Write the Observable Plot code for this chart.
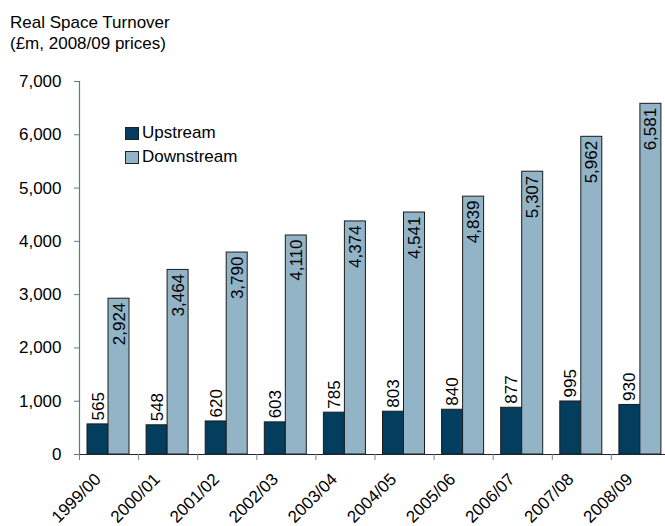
<!DOCTYPE html>
<html>
<head>
<meta charset="utf-8">
<script src="https://cdn.jsdelivr.net/npm/d3@7"></script>
<script src="https://cdn.jsdelivr.net/npm/@observablehq/plot@0.6"></script>
<style>
  html, body { margin: 0; padding: 0; background: #fff; }
  #wrap { position: relative; width: 665px; height: 526px; overflow: hidden; font-family: "Liberation Sans", Arial, sans-serif; color: #000; }
  #title { position: absolute; left: 10px; top: 12px; font-size: 17px; line-height: 21px; }
  #legend { position: absolute; left: 125px; top: 121px; font-size: 17px; line-height: 24px; }
  #legend .item { display: flex; align-items: center; }
  #legend .sw { width: 12px; height: 11px; border: 1px solid #222; margin-right: 3px; }
  #chart { position: absolute; left: 0; top: 0; }
</style>
</head>
<body>
<div id="wrap">
  <div id="chart"></div>
  <div id="title">Real Space Turnover<br>(£m, 2008/09 prices)</div>
  <div id="legend"></div>
</div>
<script>
const years = ["1999/00", "2000/01", "2001/02", "2002/03", "2003/04", "2004/05", "2005/06", "2006/07", "2007/08", "2008/09"];
const upstream = [565, 548, 620, 603, 785, 803, 840, 877, 995, 930];
const downstream = [2924, 3464, 3790, 4110, 4374, 4541, 4839, 5307, 5962, 6581];
const seriesNames = ["Upstream", "Downstream"];
const seriesColors = ["#033e5e", "#93b4c7"];
const yTicks = [0, 1000, 2000, 3000, 4000, 5000, 6000, 7000];

const up = years.map((year, i) => ({year, value: upstream[i]}));
const down = years.map((year, i) => ({year, value: downstream[i]}));
const fmt = d3.format(",");
const axisBlue = "#4f7d9b";
const step = (670 - 79) / years.length;

const chart = Plot.plot({
  width: 665,
  height: 526,
  marginTop: 81,
  marginBottom: 72,
  marginLeft: 79,
  marginRight: 0,
  style: {fontFamily: "'Liberation Sans', Arial, sans-serif", fontSize: "17px", color: "#000", background: "transparent"},
  x: {type: "band", domain: years, range: [79, 670], padding: 0, round: false, axis: null, label: null},
  y: {domain: [0, 7000], axis: null, label: null},
  marks: [
    Plot.barY(up, {x: "year", y: "value", fill: seriesColors[0], stroke: "#1b1b1b", strokeWidth: 1, insetLeft: 8, insetRight: step - 29}),
    Plot.barY(down, {x: "year", y: "value", fill: seriesColors[1], stroke: "#1b1b1b", strokeWidth: 1, insetLeft: 29, insetRight: step - 50}),
    Plot.ruleY([0], {stroke: "#1a2a35", strokeWidth: 1.2}),
    Plot.ruleX([years[0]], {y1: 0, y2: 7000, dx: -step / 2, stroke: axisBlue, strokeWidth: 1.2}),
    Plot.axisY({ticks: yTicks, tickFormat: fmt, tickSize: 5, tickPadding: 13, stroke: axisBlue, fill: "#000", fontSize: 17, label: null}),
    Plot.axisX({tickSize: 6, tickFormat: () => "", dx: -step / 2, stroke: "#808080", label: null}),
    Plot.text(years, {x: d => d, frameAnchor: "bottom", text: d => d, rotate: -45, textAnchor: "end", lineAnchor: "middle", dx: -11, dy: 22, fill: "#000", fontSize: 17}),
    Plot.text(up, {x: "year", y: "value", text: d => String(d.value), rotate: -90, textAnchor: "start", dx: -11, dy: -4, fill: "#000", fontSize: 17}),
    Plot.text(down, {x: "year", y: "value", text: d => fmt(d.value), rotate: -90, textAnchor: "end", dx: 10, dy: 4, fill: "#000", fontSize: 17})
  ]
});
document.getElementById("chart").appendChild(chart);

const legend = document.getElementById("legend");
seriesNames.forEach((name, i) => {
  const item = document.createElement("div");
  item.className = "item";
  const sw = document.createElement("span");
  sw.className = "sw";
  sw.style.background = seriesColors[i];
  const label = document.createElement("span");
  label.textContent = name;
  item.appendChild(sw);
  item.appendChild(label);
  legend.appendChild(item);
});
</script>
</body>
</html>
